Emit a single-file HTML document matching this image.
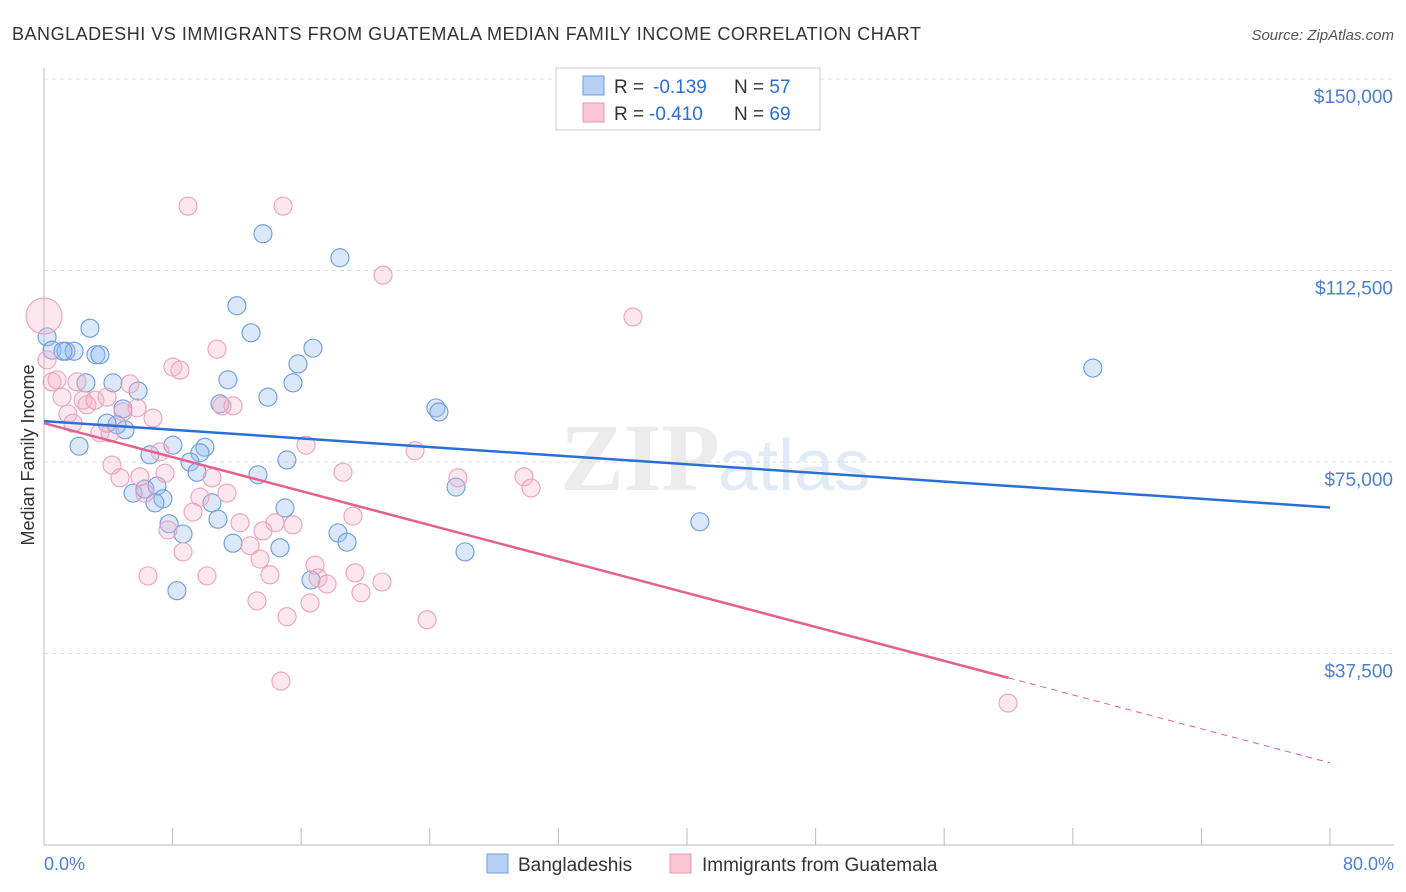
<!DOCTYPE html>
<html><head><meta charset="utf-8"><style>
body{margin:0;background:#fff;font-family:"Liberation Sans",sans-serif;}
svg{display:block}
</style></head><body>
<svg id="chart" width="1406" height="892">
<text x="12" y="40" font-size="18" fill="#333" textLength="909" lengthAdjust="spacing">BANGLADESHI VS IMMIGRANTS FROM GUATEMALA MEDIAN FAMILY INCOME CORRELATION CHART</text>
<text x="1394" y="40" font-size="15" fill="#555" font-style="italic" text-anchor="end">Source: ZipAtlas.com</text>
<text x="720" y="490" font-size="96" fill="#ececec" text-anchor="end" font-family="Liberation Serif" font-weight="bold">ZIP</text>
<text x="718" y="490" font-size="72" fill="#e0ebf7">atlas</text>
<g id="grid"></g><g id="axes"></g><g id="pts"></g><g id="lines"></g>
<text x="34" y="455" font-size="18" fill="#333" text-anchor="middle" transform="rotate(-90 34 455)">Median Family Income</text>
<text x="44" y="870" font-size="18" fill="#4a7fd4">0.0%</text>
<text x="1394" y="870" font-size="18" fill="#4a7fd4" text-anchor="end">80.0%</text>
<g>
<rect x="556" y="68" width="264" height="62" fill="#fff" stroke="#ccc"/>
<rect x="583" y="76" width="21" height="19" fill="#b7d0f3" stroke="#6e9de0"/>
<rect x="583" y="103" width="21" height="19" fill="#f8c6d5" stroke="#e895b0"/>
<text x="614" y="93" font-size="19" fill="#333">R = <tspan x="653" fill="#2a6fd6">-0.139</tspan><tspan x="734">N = </tspan><tspan fill="#2a6fd6">57</tspan></text>
<text x="614" y="120" font-size="19" fill="#333">R = <tspan x="649" fill="#2a6fd6">-0.410</tspan><tspan x="734">N = </tspan><tspan fill="#2a6fd6">69</tspan></text>
</g>
<g>
<rect x="487" y="854" width="21" height="19" fill="#b7d0f3" stroke="#6e9de0"/>
<text x="518" y="871" font-size="19" fill="#333">Bangladeshis</text>
<rect x="670" y="854" width="21" height="19" fill="#f8c6d5" stroke="#e895b0"/>
<text x="702" y="871" font-size="19" fill="#333">Immigrants from Guatemala</text>
</g>
</svg>
<script>
const yTicks=[150000,112500,75000,37500];
const yTickLabels=["$150,000","$112,500","$75,000","$37,500"];
const xTicks=[0,8,16,24,32,40,48,56,64,72,80];
const blueX=[0.19,0.5,1.37,1.87,2.86,3.23,3.48,2.61,4.29,5.85,4.91,5.04,4.54,2.18,6.59,8.02,10.01,9.7,9.08,9.52,5.54,6.28,7.03,7.4,6.9,7.78,8.65,10.45,10.82,11.76,13.62,18.41,12.0,12.88,11.44,13.93,15.8,16.73,15.49,10.95,13.31,15.11,14.99,14.68,16.61,18.29,18.85,24.38,24.57,25.63,26.19,40.8,65.25,8.27,3.92,1.18];
const blueY=[99.5,96.9,96.7,96.7,101.2,96.0,96.0,90.5,90.5,88.9,85.4,81.3,82.3,78.1,76.4,78.3,77.9,76.8,75.0,73.0,68.9,69.7,70.3,67.8,67.0,62.9,60.9,67.0,63.8,59.1,119.7,115.0,105.6,100.3,91.1,87.7,94.2,97.3,90.5,86.4,72.5,75.4,66.0,58.2,51.9,61.1,59.3,85.6,84.8,70.1,57.4,63.3,93.4,49.8,82.6,96.7];
const pinkX=[0,0.19,0.5,0.81,1.12,1.49,1.8,2.05,2.43,2.67,3.17,3.92,5.35,5.79,6.78,3.48,4.11,4.91,7.22,4.23,4.73,5.97,7.53,6.28,10.45,11.38,9.7,9.27,7.71,8.65,6.47,10.14,12.19,12.82,14.37,13.44,14.06,13.25,8.96,14.87,21.09,10.76,8.02,8.46,11.07,11.76,16.3,23.08,18.6,25.75,29.86,30.3,13.62,19.22,15.49,16.86,17.05,17.61,19.35,21.03,19.72,16.55,15.12,23.83,14.74,36.64,59.97];
const pinkY=[103.6,95.0,90.7,91.1,87.7,84.4,82.6,90.7,87.1,86.2,87.1,87.7,90.3,85.6,83.6,80.7,80.7,84.8,77.0,74.4,71.9,72.1,72.8,68.9,71.9,68.9,68.1,65.2,61.7,57.4,52.7,52.7,63.1,58.6,63.1,56.0,52.9,47.8,125.1,125.1,111.6,97.1,93.6,93.0,86.0,86.0,78.3,77.2,73.0,71.9,72.1,69.9,61.5,64.4,62.7,54.8,52.3,51.1,53.3,51.5,49.4,47.4,44.7,44.1,32.1,103.4,27.8];
const blueTrend=[83.0,66.1];
const pinkTrend=[82.6,16.1];
const pinkSolidEnd=60;
const NS="http://www.w3.org/2000/svg";
const xs=v=>44+v/80*1286;
const ys=v=>79+(150-v)/37.5*191.5;
function mk(tag,attrs,parent){const e=document.createElementNS(NS,tag);for(const k in attrs)e.setAttribute(k,attrs[k]);document.getElementById(parent).appendChild(e);return e;}
yTicks.forEach((t,i)=>{
 const y=ys(t/1000);
 const g=mk('line',{x1:44,x2:1394,y1:y,y2:y,stroke:'#ddd','stroke-dasharray':'4 4'},'grid');
 
 
 const l=mk('text',{x:1393,y:y+24,'font-size':19,fill:'#4a7fd4','text-anchor':'end'},'grid');
 l.textContent=yTickLabels[i];
 
 
});
const ax=mk('line',{x1:44,x2:1394,y1:845,y2:845,stroke:'#bbb'},'axes');


const ay=mk('line',{x1:44,x2:44,y1:68,y2:845,stroke:'#bbb'},'axes');


xTicks.forEach(t=>{
 const tk=mk('line',{x1:xs(t),x2:xs(t),y1:828,y2:845,stroke:'#bbb'},'axes');
 
 
});
blueX.forEach((x,i)=>{
 const c=mk('circle',{cx:xs(x),cy:ys(blueY[i]),r:9,fill:'rgba(150,188,238,0.35)',stroke:'#6b9be2','stroke-width':1.1},'pts');
 
 
});
pinkX.forEach((x,i)=>{
 const c=mk('circle',{cx:xs(x),cy:ys(pinkY[i]),r:i===0?18:9,fill:'rgba(244,176,199,0.3)',stroke:'#eea0ba','stroke-width':1.1},'pts');
 
 
});
const bl=mk('line',{x1:xs(0),y1:ys(blueTrend[0]),x2:xs(80),y2:ys(blueTrend[1]),stroke:'#2a6fd6','stroke-width':2.5},'lines');


const pAt=x=>pinkTrend[0]+(pinkTrend[1]-pinkTrend[0])*x/80;
const pl=mk('line',{x1:xs(0),y1:ys(pinkTrend[0]),x2:xs(pinkSolidEnd),y2:ys(pAt(pinkSolidEnd)),stroke:'#e5608e','stroke-width':2.5},'lines');


const pd=mk('line',{x1:xs(pinkSolidEnd),y1:ys(pAt(pinkSolidEnd)),x2:xs(80),y2:ys(pinkTrend[1]),stroke:'#e5608e','stroke-width':1,'stroke-dasharray':'6 5'},'lines');


</script>
</body></html>
